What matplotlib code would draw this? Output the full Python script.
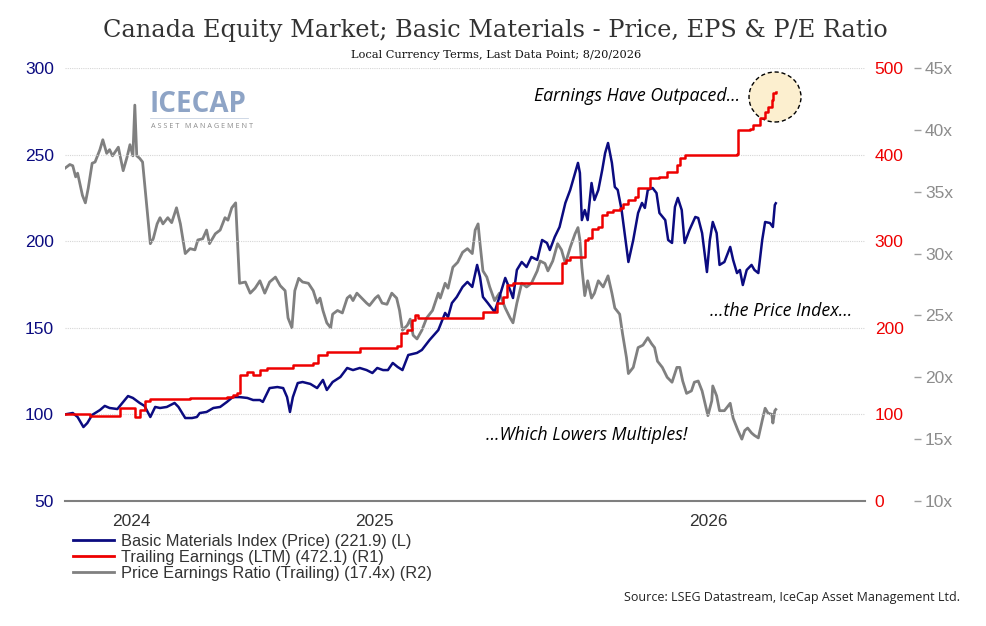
import matplotlib
matplotlib.use("Agg")
import matplotlib.pyplot as plt
from matplotlib.patches import Ellipse
from matplotlib.lines import Line2D
import numpy as np
import pandas as pd

# --- data (days since 2024-08-17) ---
start_date = pd.Timestamp("2024-08-17")

price_days = [0, 8, 13, 19, 23, 28, 36, 41, 46, 54, 60, 65, 70, 77, 82, 88, 93, 98, 105, 113,
              117, 124, 131, 136, 139, 146, 153, 160, 167, 173, 180, 188, 194, 201, 204, 211, 219,
              225, 229, 232, 235, 240, 245, 253, 260, 266, 270, 276, 284, 291, 297, 304, 311, 317,
              322, 328, 333, 338, 343, 348, 354, 363, 368, 376, 385, 392, 395, 399, 404, 410, 415,
              420, 425, 428, 431, 436, 443, 448, 454, 459, 462, 466, 471, 476, 481, 487, 492, 497,
              500, 505, 510, 516, 521, 526, 529, 531, 533, 536, 539, 543, 546, 550, 554, 557, 560,
              564, 567, 570, 574, 579, 581, 586, 591, 595, 598, 601, 606, 610, 613, 619, 622, 626,
              629, 632, 636, 639, 644, 650, 653, 657, 662, 665, 668, 672, 675, 680, 686, 689, 693,
              696, 699, 703, 708, 711, 715, 719, 722, 727, 730, 732, 733]
price_vals = [100.0, 100.8, 98.5, 92.7, 95.0, 99.7, 102.5, 104.9, 103.7, 103.1, 107.2, 110.6,
              109.5, 106.6, 104.9, 98.5, 104.3, 103.7, 104.3, 106.6, 104.3, 97.9, 97.9, 98.5,
              100.8, 101.4, 103.7, 104.3, 107.2, 110.0, 110.0, 109.5, 108.3, 108.3, 107.2, 115.2,
              115.8, 115.2, 110.0, 101.4, 110.0, 118.1, 118.7, 117.6, 115.2, 119.9, 114.1, 118.7,
              121.6, 126.8, 125.6, 126.8, 125.6, 123.9, 126.8, 125.6, 125.6, 129.7, 127.4, 125.6,
              134.3, 135.5, 137.2, 143.0, 148.7, 158.6, 156.2, 164.3, 167.8, 173.6, 176.5, 173.6,
              186.3, 179.3, 167.8, 164.3, 159.1, 167.8, 178.8, 171.8, 167.2, 183.4, 188.0, 185.1,
              190.9, 189.2, 200.7, 199.0, 194.9, 202.4, 208.2, 222.1, 229.6, 239.4, 245.2, 239.4,
              212.2, 218.0, 212.2, 233.6, 223.8, 229.6, 241.1, 250.9, 256.7, 245.2, 231.3, 229.6,
              218.0, 196.7, 188.0, 200.7, 216.3, 222.1, 219.2, 229.6, 230.7, 227.8, 216.3, 212.2,
              200.7, 199.0, 219.8, 225.0, 218.0, 199.0, 206.5, 214.0, 213.4, 204.7, 182.2, 200.7,
              211.1, 204.7, 186.3, 188.0, 196.7, 189.2, 181.6, 183.4, 174.7, 183.4, 186.3, 183.4,
              181.6, 200.7, 211.1, 210.5, 208.2, 220.9, 221.9]

eps_days = [0, 26, 55, 57, 69, 72, 77, 82, 88, 129, 167, 173, 177, 180, 188, 194, 201, 208, 235,
            256, 261, 270, 304, 342, 347, 353, 358, 361, 364, 394, 428, 431, 441, 446, 452, 456,
            462, 512, 513, 517, 521, 534, 536, 539, 543, 550, 554, 559, 565, 572, 575, 581, 588,
            591, 601, 603, 613, 621, 631, 634, 639, 693, 694, 706, 709, 717, 722, 725, 729, 730,
            733]
eps_vals = [100.0, 98.2, 98.2, 107.4, 107.4, 97.0, 105.1, 115.5, 117.8, 118.9, 120.1, 122.4,
            124.7, 145.5, 149.0, 145.5, 151.3, 153.6, 157.0, 159.3, 168.6, 172.0, 176.7, 179.0,
            194.0, 197.5, 209.0, 214.8, 211.3, 211.3, 211.3, 218.2, 218.2, 228.6, 235.6, 249.4,
            251.7, 251.7, 274.8, 278.3, 281.7, 281.7, 301.4, 303.7, 314.1, 316.4, 330.2, 333.7,
            336.0, 338.3, 342.9, 347.5, 351.0, 361.4, 361.4, 373.0, 374.1, 379.9, 388.0, 396.1,
            399.5, 400.7, 428.4, 429.5, 434.2, 442.2, 449.2, 455.0, 463.0, 471.1, 472.1]

pe_days = [0, 5, 8, 11, 13, 18, 21, 24, 28, 31, 33, 36, 39, 43, 46, 49, 55, 60, 64, 67, 70, 72,
           74, 77, 80, 84, 88, 91, 95, 98, 101, 106, 110, 115, 119, 124, 129, 134, 137, 142, 146,
           149, 155, 160, 165, 168, 172, 176, 180, 186, 191, 196, 201, 206, 211, 217, 222, 227,
           230, 234, 237, 241, 245, 251, 256, 260, 263, 266, 270, 274, 276, 281, 286, 291, 294,
           297, 301, 306, 311, 314, 320, 323, 327, 332, 337, 342, 345, 348, 353, 356, 359, 363,
           368, 373, 379, 385, 387, 392, 395, 400, 405, 410, 415, 420, 423, 426, 428, 431, 435,
           438, 443, 448, 454, 459, 462, 466, 471, 476, 481, 487, 490, 495, 498, 503, 508, 512,
           516, 521, 526, 529, 531, 533, 536, 539, 543, 546, 550, 555, 560, 564, 567, 572, 575,
           579, 581, 586, 591, 596, 601, 605, 608, 611, 616, 621, 626, 631, 634, 637, 641, 646,
           649, 653, 657, 660, 663, 667, 668, 672, 675, 680, 686, 689, 694, 698, 701, 704, 708,
           711, 715, 719, 722, 725, 729, 730, 732, 733]
pe_vals = [36.9, 37.2, 37.1, 36.2, 36.5, 34.7, 34.1, 35.3, 37.3, 37.4, 37.8, 38.4, 39.2, 38.1,
           38.4, 37.9, 38.6, 36.7, 37.8, 38.8, 37.9, 42.0, 37.9, 37.7, 37.4, 34.1, 30.8, 31.2,
           32.4, 32.9, 32.4, 32.9, 32.5, 33.7, 32.4, 30.0, 30.4, 30.3, 31.1, 31.2, 31.9, 30.8,
           31.6, 31.9, 32.9, 32.7, 33.7, 34.1, 27.6, 27.7, 26.8, 27.2, 27.8, 26.8, 27.7, 28.1,
           27.4, 27.0, 24.8, 24.0, 27.0, 28.0, 27.7, 27.6, 27.0, 26.0, 26.4, 25.4, 24.4, 24.0,
           25.1, 25.4, 25.2, 26.4, 26.6, 26.2, 26.8, 26.4, 26.0, 25.8, 26.4, 26.6, 26.0, 25.9,
           26.8, 26.4, 25.4, 23.8, 24.2, 24.7, 23.4, 23.1, 23.8, 24.8, 25.4, 26.8, 26.4, 27.6,
           27.2, 28.9, 29.3, 30.1, 30.4, 30.0, 31.9, 32.4, 30.8, 28.6, 28.1, 27.3, 26.2, 26.8,
           25.6, 24.8, 24.4, 26.0, 27.6, 27.3, 27.6, 28.6, 29.4, 29.2, 28.6, 29.4, 30.8, 30.3,
           29.2, 30.5, 31.6, 32.1, 31.1, 28.9, 26.6, 27.8, 26.4, 26.8, 27.8, 27.3, 28.2, 26.8,
           25.6, 25.1, 23.5, 21.6, 20.3, 20.8, 22.4, 22.6, 23.2, 22.7, 22.4, 21.3, 20.8, 20.0,
           19.6, 20.8, 20.8, 19.7, 18.7, 18.9, 19.6, 19.7, 18.9, 17.9, 16.9, 18.1, 19.3, 18.5,
           17.3, 17.3, 17.9, 16.7, 15.7, 15.0, 15.7, 15.9, 15.5, 15.3, 15.1, 16.5, 17.5, 17.1,
           17.0, 16.3, 17.3, 17.4]

year_labels = ["2024", "2025", "2026"]
year_label_dates = ["2024-10-24", "2025-07-02", "2026-06-11"]
year_bounds = ["2025-01-01", "2026-01-01"]

price_ticks = [50, 100, 150, 200, 250, 300]
eps_ticks = [0, 100, 200, 300, 400, 500]
pe_ticks = [10, 15, 20, 25, 30, 35, 40, 45]


def to_dates(days):
    return start_date + pd.to_timedelta(np.array(days), unit="D")


NAVY = "#0b0b80"
RED = "#ee0000"
GREY = "#808080"
SANS = "Liberation Sans"

fig = plt.figure(figsize=(9.87, 6.26), dpi=100)
ax_pe = fig.add_axes([65 / 987, 1 - 501 / 626, 800 / 987, 433 / 626])
ax = ax_pe.twinx()
ax_eps = ax_pe.twinx()

ax_pe.set_zorder(1)
ax.set_zorder(2)
ax_eps.set_zorder(3)
for a in (ax, ax_eps):
    a.patch.set_visible(False)

ax_pe.plot(to_dates(pe_days), pe_vals, color=GREY, lw=2.0, solid_joinstyle="round")
ax.plot(to_dates(price_days), price_vals, color=NAVY, lw=1.8, solid_joinstyle="round")
ax_eps.plot(to_dates(eps_days), eps_vals, color=RED, lw=1.8, drawstyle="steps-post")

# highlight circle around latest earnings
circ = Ellipse((775 / 987, 1 - 97 / 626), 52 / 987, 50 / 626, transform=fig.transFigure,
               facecolor="#fcefcf", edgecolor="black", ls=(0, (3, 2)), lw=1.0, zorder=0.5)
ax_eps.add_patch(circ)

x0 = start_date
x1 = start_date + pd.Timedelta(days=825)
for a in (ax_pe, ax, ax_eps):
    a.set_xlim(x0, x1)
    for s in a.spines.values():
        s.set_visible(False)

ax_pe.spines["bottom"].set_visible(True)
ax_pe.spines["bottom"].set_color("#7f7f7f")
ax_pe.spines["bottom"].set_linewidth(1.5)

# left axis: price
ax.set_ylim(50, 300)
ax.yaxis.tick_left()
ax.set_yticks(price_ticks)
ax.tick_params(axis="y", length=0, pad=8, labelsize=12.5, labelcolor=NAVY)
for t in price_ticks[1:]:
    ax.axhline(t, color="#d6d6d6", lw=0.8, ls=(0, (1, 1)), zorder=0)

# R1: earnings
ax_eps.set_ylim(0, 500)
ax_eps.set_yticks(eps_ticks)
ax_eps.tick_params(axis="y", length=0, pad=7, labelsize=12.5, labelcolor=RED)

# R2: P/E, offset to the right
ax_pe.set_ylim(10, 45)
ax_pe.yaxis.tick_right()
ax_pe.spines["right"].set_position(("axes", 1.061))
ax_pe.set_yticks(pe_ticks)
ax_pe.set_yticklabels([f"{v}x" for v in pe_ticks])
ax_pe.tick_params(axis="y", length=5, width=1, color="#a0a0a0", pad=3,
                  labelsize=12.5, labelcolor="#8c8c8c")

# x axis: ticks at year boundaries, labels centered in each year
ax_pe.set_xticks(pd.to_datetime(year_bounds))
ax_pe.set_xticklabels([])
ax_pe.tick_params(axis="x", which="major", length=5, width=1.2, color="#7f7f7f")
ax_pe.set_xticks(pd.to_datetime(year_label_dates), minor=True)
ax_pe.set_xticklabels(year_labels, minor=True)
ax_pe.tick_params(axis="x", which="minor", length=0, pad=9, labelsize=12.5, labelcolor="#333333")
ax.set_xticks([])
ax_eps.set_xticks([])

for a in (ax_pe, ax, ax_eps):
    for lbl in a.get_yticklabels() + a.get_xticklabels(minor=True):
        lbl.set_family(SANS)

# titles
fig.text(495 / 987, 1 - 30 / 626, "Canada Equity Market; Basic Materials - Price, EPS & P/E Ratio",
         ha="center", va="center", fontsize=17.3, family="DejaVu Serif", color="#333333")
fig.text(496 / 987, 1 - 55 / 626, "Local Currency Terms, Last Data Point; 8/20/2026",
         ha="center", va="center", fontsize=8.2, family="DejaVu Serif", color="#111111")

# logo
fig.text(149 / 987, 1 - 104 / 626, "ICECAP", ha="left", va="center", fontsize=20,
         fontweight="bold", family="Open Sans", color="#8ea4c6")
fig.add_artist(Line2D([150 / 987, 248 / 987], [1 - 118 / 626, 1 - 118 / 626],
                      color="#c8d2e2", lw=0.6))
fig.text(151 / 987, 1 - 126 / 626, "A S S E T   M A N A G E M E N T", ha="left", va="center",
         fontsize=5.2, family="Open Sans", color="#8c8c8c")

# annotations
fig.text(740 / 987, 1 - 96 / 626, "Earnings Have Outpaced...", ha="right", va="center",
         fontsize=12.8, style="italic", family="Open Sans", color="black")
fig.text(852 / 987, 1 - 311 / 626, "...the Price Index...", ha="right", va="center",
         fontsize=12.8, style="italic", family="Open Sans", color="black")
fig.text(587 / 987, 1 - 435 / 626, "...Which Lowers Multiples!", ha="center", va="center",
         fontsize=12.8, style="italic", family="Open Sans", color="black")

# legend
handles = [Line2D([], [], color=NAVY, lw=2),
           Line2D([], [], color=RED, lw=2),
           Line2D([], [], color=GREY, lw=2)]
labels = ["Basic Materials Index (Price) (221.9) (L)",
          "Trailing Earnings (LTM) (472.1) (R1)",
          "Price Earnings Ratio (Trailing) (17.4x) (R2)"]
fig.legend(handles, labels, loc="upper left", bbox_to_anchor=(73 / 987, 1 - 534 / 626),
           frameon=False, handlelength=2.5, handletextpad=0.45,
           labelspacing=0.05, borderaxespad=0, borderpad=0,
           prop={"family": SANS, "size": 11.8})
for txt in fig.legends[0].get_texts():
    txt.set_color("#333333")

fig.text(960 / 987, 1 - 598 / 626, "Source: LSEG Datastream, IceCap Asset Management Ltd.",
         ha="right", va="center", fontsize=9, family="Open Sans", color="#222222")

fig.savefig("out.png", dpi=100)
